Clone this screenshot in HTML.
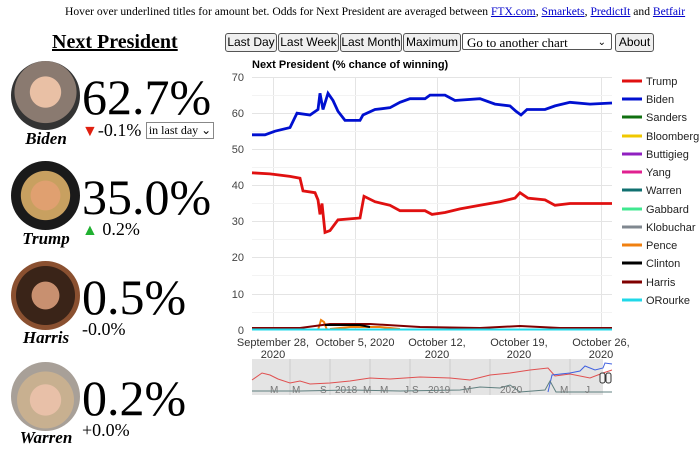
<!DOCTYPE html>
<html><head><meta charset="utf-8"><style>
body{margin:0;width:700px;height:456px;background:#fff;position:relative;overflow:hidden;font-family:"Liberation Serif",serif}
.a{position:absolute;white-space:nowrap}
.top{left:65px;top:5px;font-size:11.6px}
.top u{color:#00c}
.pic{position:absolute;left:11px;width:69px;height:69px;border-radius:50%}
.big{position:absolute;left:82px;font-size:50px;line-height:1}
.name{position:absolute;left:0;width:92px;text-align:center;font-weight:bold;font-style:italic;font-size:17px}
.sm{position:absolute;font-size:18px}
.btn{position:absolute;top:33px;height:17px;border:1px solid #555;border-radius:3px;background:#efefef;font:12px "Liberation Sans",sans-serif;line-height:17px;text-align:center}
</style></head><body>
<div class="a top">Hover over underlined titles for amount bet. Odds for Next President are averaged between <u>FTX.com</u>, <u>Smarkets</u>, <u>PredictIt</u> and <u>Betfair</u></div>
<div class="a" style="left:52px;top:31px;font-size:20px;font-weight:bold;text-decoration:underline">Next President</div>

<div class="pic" style="top:61px;background:radial-gradient(circle at 50% 45%,#e9c0a5 0 30%,#8a7a70 31% 60%,#333 61%)"></div>
<div class="big" style="top:72px">62.7%</div>
<div class="sm" style="left:82px;top:120px"><span style="color:#e02010;font-size:16px">▼</span>-0.1% <span style="display:inline-block;font-size:12px;border:1px solid #888;padding:0 2px;vertical-align:2px">in last day ⌄</span></div>
<div class="name" style="top:129px">Biden</div>

<div class="pic" style="top:161px;background:radial-gradient(circle at 50% 50%,#e0a070 0 30%,#c8a060 31% 50%,#1a1a1a 51%)"></div>
<div class="big" style="top:172px">35.0%</div>
<div class="sm" style="left:82px;top:219px"><span style="color:#20b030;font-size:16px">▲</span> 0.2%</div>
<div class="name" style="top:229px">Trump</div>

<div class="pic" style="top:261px;background:radial-gradient(circle at 50% 50%,#c89070 0 28%,#3a2418 29% 60%,#8a5030 61%)"></div>
<div class="big" style="top:272px">0.5%</div>
<div class="sm" style="left:82px;top:319px">-0.0%</div>
<div class="name" style="top:328px">Harris</div>

<div class="pic" style="top:362px;background:radial-gradient(circle at 50% 55%,#e8c0a8 0 30%,#c8b090 31% 55%,#a8a098 56%)"></div>
<div class="big" style="top:373px">0.2%</div>
<div class="sm" style="left:82px;top:420px">+0.0%</div>
<div class="name" style="top:428px">Warren</div>

<div class="btn" style="left:225px;width:50px">Last Day</div>
<div class="btn" style="left:278px;width:59px">Last Week</div>
<div class="btn" style="left:340px;width:60px">Last Month</div>
<div class="btn" style="left:403px;width:56px">Maximum</div>
<div class="btn" style="left:462px;width:150px;background:#fff;border-radius:2px;text-align:left;font:13px 'Liberation Serif',serif;line-height:17px;padding-left:4px;box-sizing:border-box">Go to another chart<span style="position:absolute;right:5px;font-size:10px">⌄</span></div>
<div class="btn" style="left:615px;width:37px">About</div>

<svg class="a" style="left:0;top:0" width="700" height="456" font-family="Liberation Sans,sans-serif">
<text x="252" y="68" font-size="11" font-weight="bold">Next President (% chance of winning)</text>
<g stroke="#e4e4e4" stroke-width="1">
<line x1="252" x2="612" y1="77.5" y2="77.5"/><line x1="252" x2="612" y1="113.5" y2="113.5"/><line x1="252" x2="612" y1="149.5" y2="149.5"/><line x1="252" x2="612" y1="185.5" y2="185.5"/><line x1="252" x2="612" y1="221.5" y2="221.5"/><line x1="252" x2="612" y1="257.5" y2="257.5"/><line x1="252" x2="612" y1="294.5" y2="294.5"/>
<line x1="273.5" x2="273.5" y1="77" y2="330"/><line x1="355.5" x2="355.5" y1="77" y2="330"/><line x1="437.5" x2="437.5" y1="77" y2="330"/><line x1="519.5" x2="519.5" y1="77" y2="330"/><line x1="601.5" x2="601.5" y1="77" y2="330"/>
</g>
<g stroke="#f3f3f3"><line x1="252" x2="612" y1="95.5" y2="95.5"/><line x1="252" x2="612" y1="131.5" y2="131.5"/><line x1="252" x2="612" y1="167.5" y2="167.5"/><line x1="252" x2="612" y1="203.5" y2="203.5"/><line x1="252" x2="612" y1="239.5" y2="239.5"/><line x1="252" x2="612" y1="275.5" y2="275.5"/><line x1="252" x2="612" y1="312.5" y2="312.5"/></g>
<g font-size="11" fill="#444" text-anchor="end">
<text x="244" y="81">70</text><text x="244" y="117">60</text><text x="244" y="153">50</text><text x="244" y="189">40</text><text x="244" y="225">30</text><text x="244" y="261">20</text><text x="244" y="298">10</text><text x="244" y="334">0</text></g>
<g font-size="11" fill="#333" text-anchor="middle">
<text x="273" y="346">September 28,</text><text x="273" y="358">2020</text>
<text x="355" y="346">October 5, 2020</text>
<text x="437" y="346">October 12,</text><text x="437" y="358">2020</text>
<text x="519" y="346">October 19,</text><text x="519" y="358">2020</text>
<text x="601" y="346">October 26,</text><text x="601" y="358">2020</text></g>
<path d="M318 330 L321 320 L324 322 L327 330 M330 329 L350 327 L380 327 L400 329" stroke="#f08010" stroke-width="2" fill="none"/>
<path d="M252 328 L300 328 L330 324 L370 324 L420 327 L480 328 L520 326 L560 328 L612 328" stroke="#800000" stroke-width="2" fill="none"/>
<path d="M325 325 L360 325 L370 327" stroke="#000" stroke-width="2" fill="none"/>
<line x1="252" x2="612" y1="329.5" y2="329.5" stroke="#20d8e8" stroke-width="2"/>
<polyline fill="none" stroke="#e01010" stroke-width="2.8" points="252,172.8 270,173.9 290,176.4 300,178.2 303,190.9 315,192.7 318,199.9 320,214.4 322,203.5 325,232.4 330,230.6 338,219.8 360,218 364,196.3 375,201.7 390,205.3 400,210.7 425,210.7 432,214.4 445,212.5 460,208.9 480,205.3 500,201.7 515,198.1 520,192.7 528,198.1 545,199.9 555,205.3 570,203.5 612,203.5"/>
<polyline fill="none" stroke="#0010d0" stroke-width="2.8" points="252,134.8 265,134.8 275,131.2 290,127.6 297,113.2 310,115 318,109.5 320,93.3 323,109.5 328,93.3 333,100.5 338,111.3 345,120.4 360,120.4 363,115 375,109.5 390,107.7 400,102.3 410,98.7 425,98.7 430,95.1 445,95.1 455,100.5 480,98.7 495,104.1 510,105.9 516,111.3 521,115 527,109.5 545,109.5 555,105.9 570,102.3 590,104.1 612,103"/>
<g font-size="11" fill="#222" stroke-width="3">
<line x1="622" x2="642" y1="81" y2="81" stroke="#e01010"/><text x="646" y="85">Trump</text>
<line x1="622" x2="642" y1="99" y2="99" stroke="#0010d0"/><text x="646" y="103">Biden</text>
<line x1="622" x2="642" y1="117" y2="117" stroke="#107010"/><text x="646" y="121">Sanders</text>
<line x1="622" x2="642" y1="136" y2="136" stroke="#f0c800"/><text x="646" y="140">Bloomberg</text>
<line x1="622" x2="642" y1="154" y2="154" stroke="#9020c0"/><text x="646" y="158">Buttigieg</text>
<line x1="622" x2="642" y1="172" y2="172" stroke="#e02090"/><text x="646" y="176">Yang</text>
<line x1="622" x2="642" y1="190" y2="190" stroke="#107070"/><text x="646" y="194">Warren</text>
<line x1="622" x2="642" y1="209" y2="209" stroke="#40e890"/><text x="646" y="213">Gabbard</text>
<line x1="622" x2="642" y1="227" y2="227" stroke="#808890"/><text x="646" y="231">Klobuchar</text>
<line x1="622" x2="642" y1="245" y2="245" stroke="#f08010"/><text x="646" y="249">Pence</text>
<line x1="622" x2="642" y1="263" y2="263" stroke="#000"/><text x="646" y="267">Clinton</text>
<line x1="622" x2="642" y1="282" y2="282" stroke="#800000"/><text x="646" y="286">Harris</text>
<line x1="622" x2="642" y1="300" y2="300" stroke="#20d8e8"/><text x="646" y="304">ORourke</text></g>
<rect x="252" y="359" width="351" height="36" fill="#e4e4e4"/>
<rect x="603" y="359" width="9" height="36" fill="#fff"/>
<g stroke="#ccc"><line x1="290" x2="290" y1="359" y2="395"/><line x1="330" x2="330" y1="359" y2="395"/><line x1="370" x2="370" y1="359" y2="395"/><line x1="410" x2="410" y1="359" y2="395"/><line x1="450" x2="450" y1="359" y2="395"/><line x1="490" x2="490" y1="359" y2="395"/><line x1="530" x2="530" y1="359" y2="395"/><line x1="570" x2="570" y1="359" y2="395"/></g>
<polyline fill="none" stroke="#e05050" stroke-width="1" points="252,380 262,373 270,375 278,379 290,383 300,381 310,384 330,383 350,381 370,378 390,379 420,377 450,378 470,380 490,375 510,373 530,370 548,368 555,376 570,374 590,378 603,373 612,370"/>
<polyline fill="none" stroke="#4060e0" stroke-width="1" points="548,392 552,375 570,373 580,371 585,366 595,370 603,368 605,363 612,364"/>
<polyline fill="none" stroke="#608080" stroke-width="1" points="252,391 300,391 350,390 400,391 460,390 480,387 500,388 510,385 520,392 545,390 550,381 556,392 612,392"/>
<g font-size="10" fill="#777"><text x="270" y="393">M</text><text x="292" y="393">M</text><text x="320" y="393">S</text><text x="335" y="393">2018</text><text x="363" y="393">M</text><text x="380" y="393">M</text><text x="404" y="393">J</text><text x="412" y="393">S</text><text x="428" y="393">2019</text><text x="463" y="393">M</text><text x="500" y="393">2020</text><text x="560" y="393">M</text><text x="585" y="393">J</text></g>
<rect x="600" y="373" width="5" height="10" rx="2" fill="#f4f4f4" stroke="#333"/><rect x="606" y="373" width="5" height="10" rx="2" fill="#f4f4f4" stroke="#333"/>
</svg>
</body></html>
